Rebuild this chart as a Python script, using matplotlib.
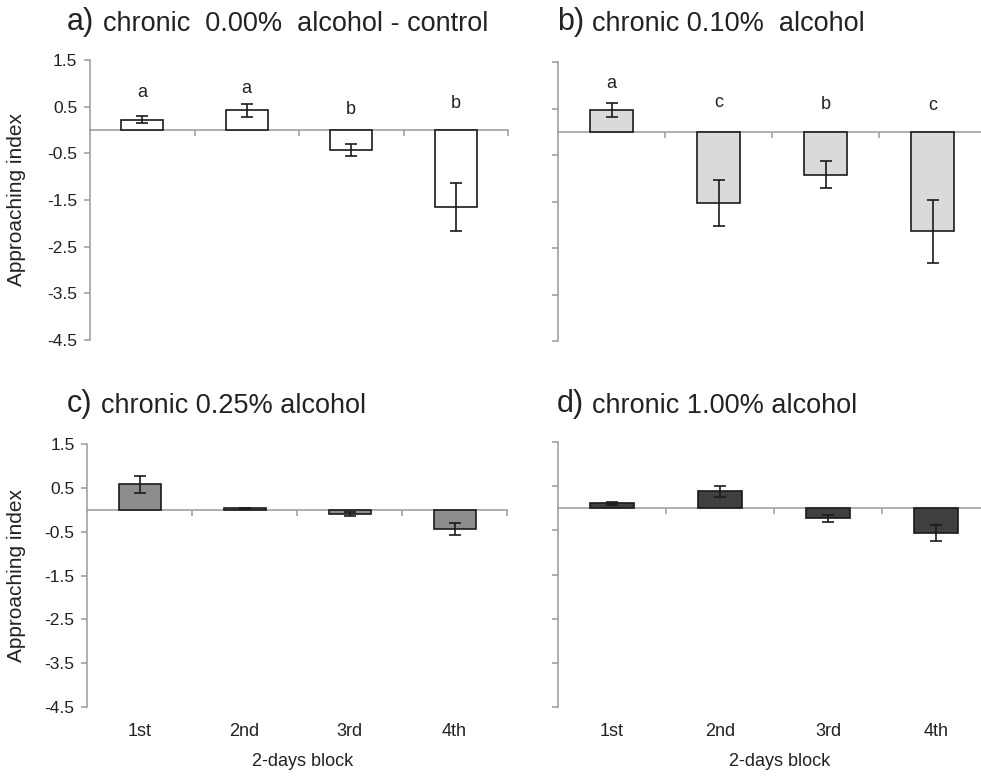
import matplotlib
matplotlib.use('Agg')
import matplotlib.pyplot as plt
import numpy as np

plt.rcParams['font.family'] = ['Liberation Sans', 'DejaVu Sans']

# values
blocks = ['1st', '2nd', '3rd', '4th']
y_ticks = [1.5, 0.5, -0.5, -1.5, -2.5, -3.5, -4.5]

mean_a = [0.22, 0.42, -0.43, -1.65]
err_a = [0.08, 0.14, 0.13, 0.52]
letters_a = ['a', 'a', 'b', 'b']
letter_y_a = [0.81, 0.89, 0.45, 0.56]

mean_b = [0.47, -1.53, -0.92, -2.14]
err_b = [0.15, 0.49, 0.30, 0.68]
letters_b = ['a', 'c', 'b', 'c']
letter_y_b = [1.04, 0.62, 0.59, 0.57]

mean_c = [0.58, 0.03, -0.10, -0.44]
err_c = [0.19, 0.01, 0.04, 0.13]

mean_d = [0.11, 0.39, -0.23, -0.56]
err_d = [0.04, 0.125, 0.075, 0.18]

GRAY = '#9a9a9a'
EDGE = '#1a1a1a'

W, H = 981, 776
fig = plt.figure(figsize=(W / 100, H / 100), dpi=100)


def rect(left, top, right, bottom):
    return [left / W, 1 - bottom / H, (right - left) / W, (bottom - top) / H]


def draw_panel(ax, means, errs, color, letters=None, letter_y=None,
               show_ylabels=False, show_xlabels=False):
    x = np.arange(len(blocks))
    ax.bar(x, means, width=0.4, color=color, edgecolor=EDGE, linewidth=1.2, zorder=3)
    ax.errorbar(x, means, yerr=errs, fmt='none', ecolor=EDGE, elinewidth=1.2,
                capsize=4, capthick=1.2, zorder=4)
    ax.set_xlim(-0.5, len(blocks) - 0.5)
    ax.set_ylim(-4.5, 1.5)
    ax.set_yticks(y_ticks)
    ax.set_yticklabels([str(t) for t in y_ticks] if show_ylabels else [])
    for s in ['top', 'right']:
        ax.spines[s].set_visible(False)
    ax.spines['bottom'].set_position(('data', 0))
    ax.spines['bottom'].set_color(GRAY)
    ax.spines['left'].set_color(GRAY)
    ax.spines['bottom'].set_linewidth(1.1)
    ax.spines['left'].set_linewidth(1.1)
    ax.set_xticks(x)
    ax.set_xticklabels([])
    ax.set_xticks(x + 0.5, minor=True)
    ax.tick_params(axis='x', which='major', length=0)
    ax.tick_params(axis='x', which='minor', length=4, width=1.1, color=GRAY, direction='out')
    ax.tick_params(axis='y', length=4, width=1.1, color=GRAY, labelsize=12.5,
                   labelcolor='#222222', pad=5)
    ax.patch.set_alpha(0)

    if letters is not None:
        for xi, lab, ly in zip(x, letters, letter_y):
            ax.text(xi, ly, lab, ha='center', va='center', fontsize=13, color='#222222')

    if show_ylabels:
        ax.set_ylabel('Approaching index', fontsize=15, color='#222222')

    if show_xlabels:
        for xi, lab in zip(x, blocks):
            ax.annotate(lab, xy=(xi, 0), xycoords=ax.get_xaxis_transform(),
                        xytext=(0, -18), textcoords='offset points',
                        ha='center', va='center', fontsize=13, color='#222222')
        ax.annotate('2-days block', xy=(0.5, 0), xycoords='axes fraction',
                    xytext=(4, -39), textcoords='offset points',
                    ha='center', va='center', fontsize=13, color='#222222')


def title(x_px, base_px, tag, rest):
    t = fig.text(x_px / W, 1 - base_px / H, tag, fontsize=22, va='baseline',
                 ha='left', color='#222222')
    plt.annotate(rest, xy=(1, 0), xycoords=t, xytext=(6, 0), textcoords='offset points',
                 ha='left', va='bottom', fontsize=19.5, color='#222222',
                 annotation_clip=False)


ax_a = fig.add_axes(rect(90, 60, 508, 340))
ax_b = fig.add_axes(rect(558, 62, 986, 341))
ax_c = fig.add_axes(rect(87, 444, 507, 707))
ax_d = fig.add_axes(rect(558, 442, 990, 707))

draw_panel(ax_a, mean_a, err_a, 'white', letters_a, letter_y_a, show_ylabels=True)
draw_panel(ax_b, mean_b, err_b, '#d9dadc', letters_b, letter_y_b)
draw_panel(ax_c, mean_c, err_c, '#8c8c8c', show_ylabels=True, show_xlabels=True)
draw_panel(ax_d, mean_d, err_d, '#404040', show_xlabels=True)

ax_a.yaxis.set_label_coords(-0.152, 0.5)
ax_c.yaxis.set_label_coords(-0.145, 0.5)

title(67, 30, 'a)', 'chronic  0.00%  alcohol - control')
title(557, 30, 'b)', 'chronic 0.10%  alcohol')
title(67, 412, 'c)', 'chronic 0.25% alcohol')
title(557, 412, 'd)', 'chronic 1.00% alcohol')

fig.savefig('out.png', dpi=100, facecolor='white')
